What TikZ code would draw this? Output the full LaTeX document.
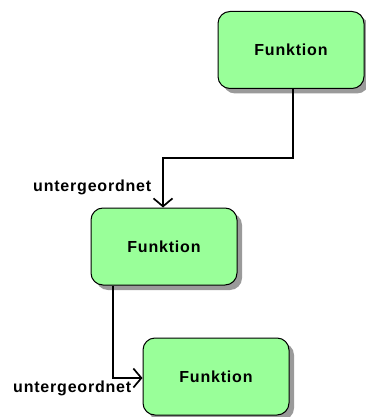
\documentclass[tikz,border=0pt]{standalone}
\usepackage{fontspec}
\setmainfont{Liberation Sans}[LetterSpace=5]
\usetikzlibrary{arrows.meta,shadows}
\definecolor{funcgreen}{HTML}{99FF99}
\definecolor{shadowgray}{HTML}{9A9A9A}
\begin{document}
\begin{tikzpicture}[x=1pt,y=-1pt,
  func/.style={draw=black, line width=1pt, fill=funcgreen, rounded corners=12pt,
    minimum width=146pt, minimum height=77pt, inner sep=0pt,
    font=\fontsize{16}{18}\selectfont\bfseries,
    drop shadow={shadow xshift=5pt, shadow yshift=-5pt, fill=shadowgray, opacity=1}},
  link/.style={draw=black, line width=1.7pt,
    -{Straight Barb[length=8pt,width=19pt,line width=1.7pt]}},
  rel/.style={font=\fontsize{16}{18}\selectfont\bfseries, inner sep=0pt}]
  \useasboundingbox (0,0) rectangle (365,417);
  % function boxes
  \node[func] (f1) at (291,50) {Funktion};
  \node[func] (f2) at (164,246.5) {Funktion};
  \node[func] (f3) at (216,376.5) {Funktion};
  % relation labels
  \node[rel, anchor=base west] (l1) at (33,191) {untergeordnet};
  \node[rel, anchor=base west] (l2) at (13,392) {untergeordnet};
  % connectors
  \draw[link] ([xshift=2pt]f1.south) -- ++(0,69) -| ([xshift=-1pt]f2.north);
  \draw[link] ([xshift=-51pt]f2.south) |- ([yshift=-1.5pt]f3.west);
\end{tikzpicture}
\end{document}
